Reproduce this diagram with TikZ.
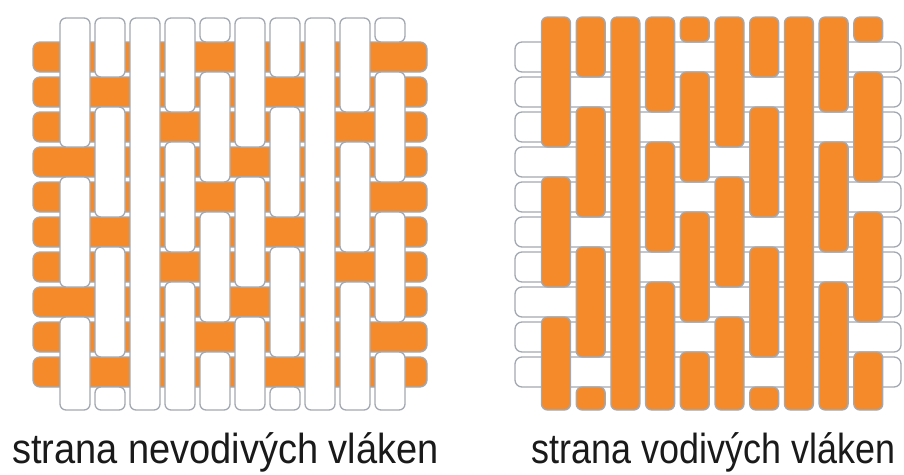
\documentclass[tikz,border=0pt]{standalone}
\usepackage{fontspec}
\setmainfont{Liberation Sans}
\definecolor{wOrange}{HTML}{F58A2A}
\definecolor{wGray}{HTML}{A3A9B2}
\definecolor{wText}{HTML}{1A1A1A}
\tikzset{
  strip/.style={draw=wGray, line width=1.3pt, rounded corners=7pt},
  segstrip/.style={draw=wGray, line width=1.3pt, rounded corners=6pt},
  caption/.style={anchor=base, text=wText, inner sep=0pt, font=\fontsize{42}{50}\selectfont}
}
\begin{document}
\begin{tikzpicture}[x=1pt,y=-1pt]
\useasboundingbox (0,0) rectangle (904,474);
% ---------- left panel: non-conductive side ----------
\foreach \j in {0,...,9}
  \draw[strip, fill=wOrange] (33,{42+35*\j}) rectangle (427,{72+35*\j});
\foreach \c/\segs in {0/{18/147,177/287,317/410},1/{18/77,107/217,247/357,387/410},2/{18/410},3/{18/112,142/252,282/410},4/{18/42,72/182,212/322,352/410},5/{18/147,177/287,317/410},6/{18/77,107/217,247/357,387/410},7/{18/410},8/{18/112,142/252,282/410},9/{18/42,72/182,212/322,352/410}}
  \foreach \a/\b in \segs
    \draw[segstrip, fill=white] ({60+35*\c},\a) rectangle ({90+35*\c},\b);
% ---------- right panel: conductive side ----------
\foreach \j in {0,...,9}
  \draw[strip, fill=white] (515,{42+35*\j}) rectangle (901,{72+35*\j});
\foreach \c/\segs in {0/{17/147,177/287,317/410},1/{17/77,107/217,247/357,387/410},2/{17/410},3/{17/112,142/252,282/410},4/{17/42,72/182,212/322,352/410},5/{17/147,177/287,317/410},6/{17/77,107/217,247/357,387/410},7/{17/410},8/{17/112,142/252,282/410},9/{17/42,72/182,212/322,352/410}}
  \foreach \a/\b in \segs
    \draw[segstrip, fill=wOrange] ({541.5+34.7*\c},\a) rectangle ({570.5+34.7*\c},\b);
% ---------- captions ----------
\node[caption] (capL) at (225.5,463.5) {\scalebox{0.905}[1]{strana nevodivých vláken}};
\node[caption] (capR) at (713.5,463.5) {\scalebox{0.855}[1]{strana vodivých vláken}};
\end{tikzpicture}
\end{document}
